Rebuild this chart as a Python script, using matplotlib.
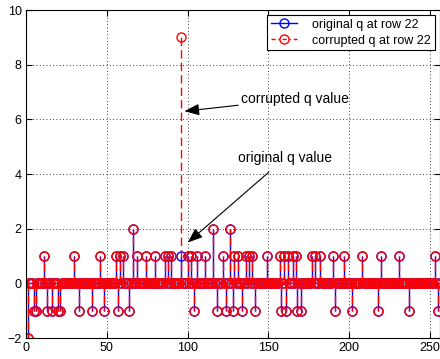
import numpy as np
import matplotlib
matplotlib.use("Agg")
import matplotlib.pyplot as plt
from matplotlib.lines import Line2D
from matplotlib.legend_handler import HandlerLine2D

plt.rcParams['font.family'] = ['Liberation Sans', 'DejaVu Sans']

# quantised coefficients of row 22 (256 samples, x = 1..256)
n_samples = 256
pos_one = [11, 30, 46, 56, 58, 60, 69, 74, 80, 86, 88, 90, 96, 100, 102, 106,
           111, 122, 129, 131, 136, 138, 140, 149, 157, 160, 162, 165, 167,
           177, 179, 182, 190, 197, 208, 220, 231, 253]
neg_one = [5, 6, 13, 16, 20, 21, 33, 41, 48, 57, 64, 104, 118, 124, 128, 134,
           142, 158, 161, 168, 170, 191, 202, 218, 237, 255]
pos_two = [66, 116, 126]
neg_two = [1]
corrupt_at = 96
corrupt_val = 9

x = np.arange(1, n_samples + 1)
q_orig = np.zeros(n_samples)
q_orig[np.array(pos_one) - 1] = 1
q_orig[np.array(neg_one) - 1] = -1
q_orig[np.array(pos_two) - 1] = 2
q_orig[np.array(neg_two) - 1] = -2
q_corr = q_orig.copy()
q_corr[corrupt_at - 1] = corrupt_val

DASH = (0, (6, 3))


class StemLegendHandler(HandlerLine2D):
    # line sample with the marker sitting at its right end
    def get_xdata(self, legend, xdescent, ydescent, width, height, fontsize):
        xdata = np.array([-xdescent, -xdescent + width])
        return xdata, np.array([-xdescent + width])


fig = plt.figure(figsize=(4.4, 3.59), dpi=100)
ax = fig.add_axes([0.059, 0.058, 0.94, 0.914])

ml, sl, bl = ax.stem(x, q_orig, linefmt='b-', markerfmt='bo', basefmt='b-')
ml.set_markerfacecolor('none')
ml.set_markersize(6.5)
ml.set_markeredgewidth(1.0)
sl.set_linewidth(1.0)
bl.set_linewidth(1.0)

ml2, sl2, bl2 = ax.stem(x, q_corr, linefmt='r--', markerfmt='ro', basefmt='r-')
ml2.set_markerfacecolor('none')
ml2.set_markersize(6.5)
ml2.set_markeredgewidth(1.0)
sl2.set_linewidth(1.0)
sl2.set_linestyle(DASH)
bl2.set_linewidth(1.0)

ax.set_xlim(0, 256)
ax.set_ylim(-2, 10)
ax.set_xticks(np.arange(0, 251, 50))
ax.set_yticks(np.arange(-2, 11, 2))
ax.tick_params(direction='in', labelsize=9, length=4, pad=3)
ax.tick_params(top=True, right=True)
ax.grid(True, color='black', linestyle=(0, (1, 3)), linewidth=0.6)
for s in ax.spines.values():
    s.set_linewidth(0.8)

ax.annotate('corrupted q value', xy=(98.1, 6.3), xytext=(133.1, 6.75),
            fontsize=10, va='center', ha='left',
            arrowprops=dict(arrowstyle='-|>,head_length=0.9,head_width=0.35',
                            color='black', lw=0.8, shrinkA=0, shrinkB=0))
ax.annotate('original q value', xy=(100.2, 1.5), xytext=(131.5, 4.6),
            fontsize=10, va='center', ha='left',
            arrowprops=dict(arrowstyle='-|>,head_length=0.9,head_width=0.35',
                            color='black', lw=0.8, shrinkA=5, shrinkB=0))

h_orig = Line2D([], [], color='b', lw=1.0, marker='o', markersize=6.5,
                markerfacecolor='none', markeredgewidth=1.0)
h_corr = Line2D([], [], color='r', lw=1.0, linestyle=(0, (3, 2, 1, 2)),
                marker='o', markersize=6.5, markerfacecolor='none',
                markeredgewidth=1.0)
leg = ax.legend([h_orig, h_corr], ['original q at row 22', 'corrupted q at row 22'],
                handler_map={Line2D: StemLegendHandler()},
                loc='upper right', fontsize=9, fancybox=False, framealpha=1,
                edgecolor='black', borderaxespad=0.4, handlelength=2.1,
                handletextpad=1.2, borderpad=0.3, labelspacing=0.3)
leg.get_frame().set_linewidth(0.8)

fig.savefig('out.png', dpi=100)
